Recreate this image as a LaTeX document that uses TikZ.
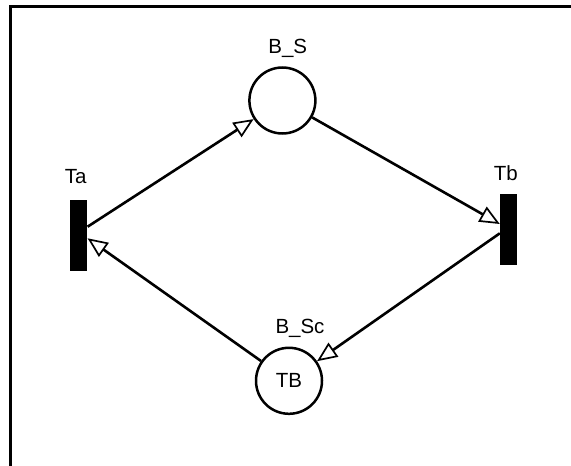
\documentclass[tikz,border=0pt]{standalone}
\usepackage{fontspec}
\setmainfont{Liberation Sans}
\usetikzlibrary{arrows.meta,shapes.geometric}

\tikzset{
  placenode/.style={draw, circle, line width=2.5pt, minimum size=66pt,
    inner sep=0pt, font=\fontsize{20.5}{20.5}\selectfont},
  transnode/.style={fill=black, minimum width=17pt, minimum height=71pt,
    inner sep=0pt},
  namelbl/.style={anchor=base, inner sep=0pt, font=\fontsize{20.5}{20.5}\selectfont},
  netarc/.style={line width=2.6pt,
    -{Triangle[open, length=20pt, width=17pt, line width=1.7pt]}}
}

\begin{document}
\begin{tikzpicture}[x=1pt, y=-1pt]
\useasboundingbox (0,0) rectangle (571,466);
% Frame, only top and left edges
\draw[line width=2.6pt] (10.5,466) -- (10.5,6.7) -- (571,6.7);
% Places
\node[placenode] (BS)  at (282.4,100.5) {};
\node[placenode] (BSc) at (289,380.8)   {TB};
% Transitions
\node[transnode] (Ta) at (78.9,235)  {};
\node[transnode] (Tb) at (508.5,229) {};
% Names
\node[namelbl] (BSname)  at (287.7,53.3) {B\_S};
\node[namelbl] (BScname) at (300,333.3)  {B\_Sc};
\node[namelbl] (Taname)  at (75.8,183.3) {Ta};
\node[namelbl] (Tbname)  at (505.8,180)  {Tb};
% Arcs
\draw[netarc] ([yshift=8.3pt]Ta.east) -- (BS);
\draw[netarc] (BS) -- ([yshift=5pt]Tb.west);
\draw[netarc] ([yshift=-4.3pt]Tb.west) -- (BSc);
\draw[netarc] (BSc) -- ([yshift=-3.3pt]Ta.east);
\end{tikzpicture}
\end{document}
